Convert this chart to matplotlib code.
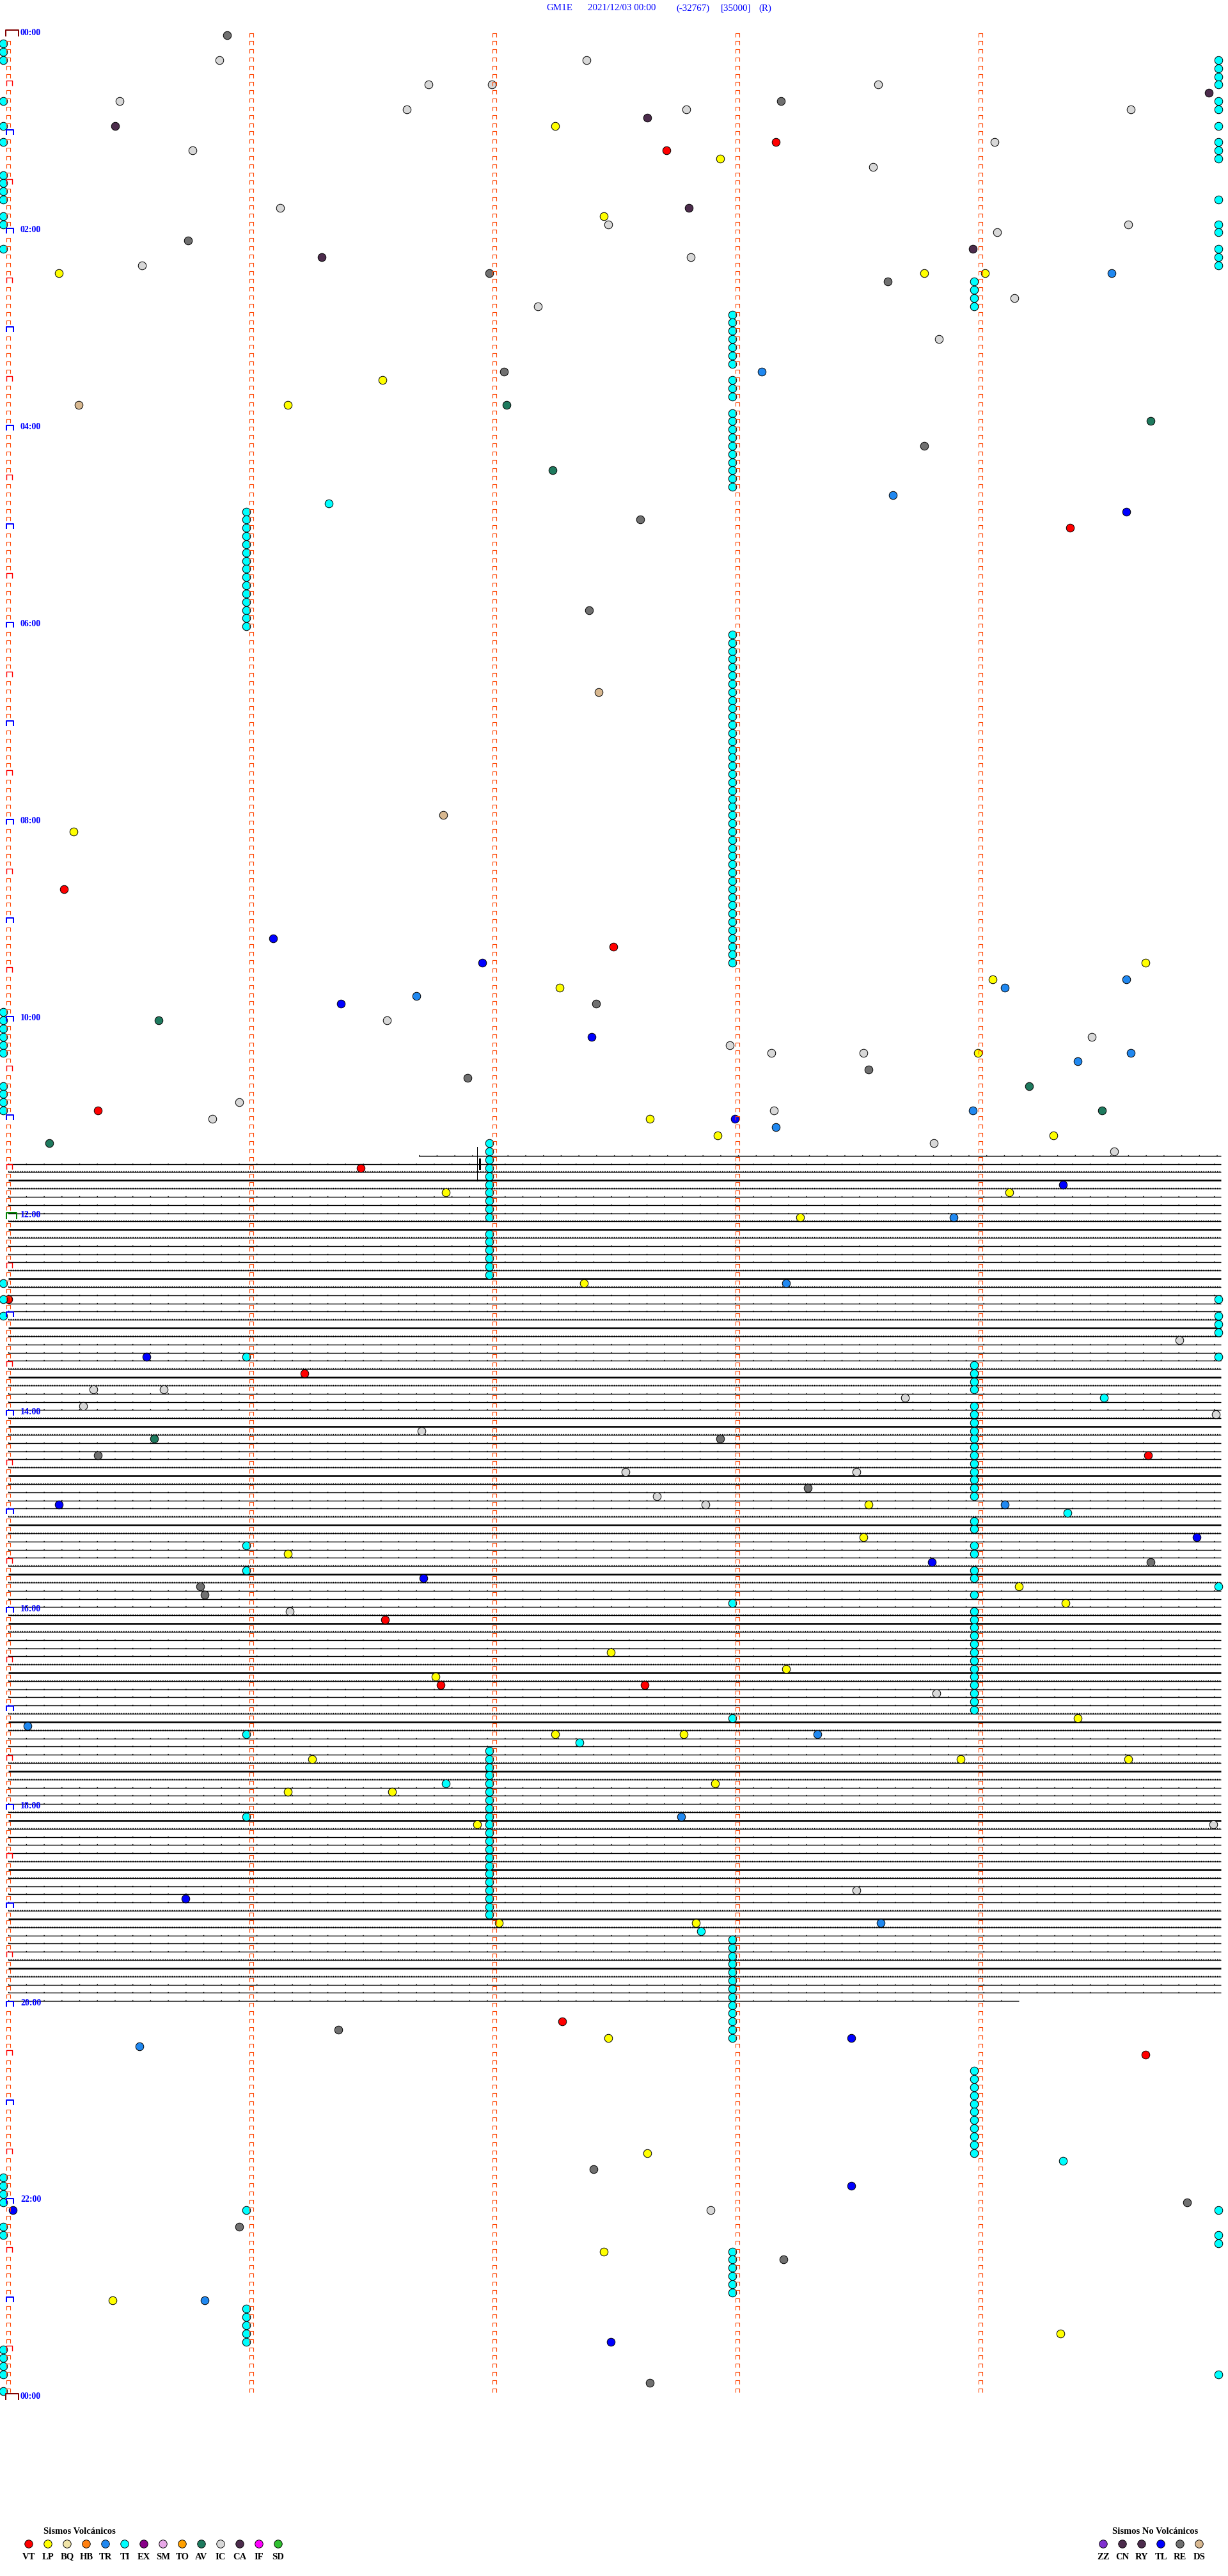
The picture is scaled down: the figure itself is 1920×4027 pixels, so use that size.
import matplotlib
matplotlib.use("Agg")
import matplotlib.pyplot as plt
from matplotlib.path import Path

# ---------------------------------------------------------------- data
title_parts = ["GM1E", "2021/12/03 00:00", "(-32767)", "[35000]", "(R)"]
minutes_per_row = 5
n_rows = 288                      # 24 h of 5-minute rows
minute_marks = [0, 1, 2, 3, 4]    # minute ticks inside each row
hour_label_rows = [0, 24, 48, 72, 96, 120, 144, 168, 192, 216, 240, 264, 288]
hour_labels = ["00:00", "02:00", "04:00", "06:00", "08:00", "10:00", "12:00",
               "14:00", "16:00", "18:00", "20:00", "22:00", "00:00"]

# events: (row index, minute offset inside the row)
VT = [(13, 3.16), (14, 2.71), (60, 4.37), (104, 0.23), (111, 2.49), (131, 0.37),
      (138, 1.45), (154, 0.00), (163, 1.22), (173, 4.69), (193, 1.55), (201, 1.78),
      (201, 2.62), (242, 2.28), (246, 4.68)]
LP = [(11, 2.25), (15, 2.93), (22, 2.45), (29, 0.21), (29, 3.77), (29, 4.02),
      (42, 1.54), (45, 1.15), (97, 0.27), (113, 4.68), (115, 4.05), (116, 2.27),
      (124, 3.99), (132, 2.64), (134, 2.92), (134, 4.30), (141, 1.80), (141, 4.12),
      (144, 3.26), (152, 2.37), (179, 3.54), (183, 3.52), (185, 1.15), (189, 4.16),
      (191, 4.35), (197, 2.48), (199, 3.20), (200, 1.76), (205, 4.40), (207, 2.25),
      (207, 2.78), (210, 3.92), (210, 4.61), (210, 1.25), (213, 2.91), (214, 1.15),
      (214, 1.58), (218, 1.93), (230, 2.02), (230, 2.83), (244, 2.47), (258, 2.63),
      (270, 2.45), (276, 0.43), (280, 4.33)]
TR = [(29, 4.54), (41, 3.10), (56, 3.64), (115, 4.60), (116, 4.10), (117, 1.68),
      (124, 4.62), (125, 4.40), (131, 3.97), (133, 3.16), (144, 3.89), (152, 3.20),
      (179, 4.10), (206, 0.08), (207, 3.33), (217, 2.77), (230, 3.59), (245, 0.54),
      (276, 0.81)]
TL = [(58, 4.60), (110, 1.09), (113, 1.95), (118, 1.37), (122, 2.40), (132, 2.99),
      (140, 4.34), (161, 0.57), (179, 0.21), (183, 4.89), (186, 3.80), (188, 1.71),
      (227, 0.73), (244, 3.47), (262, 3.47), (265, 0.02), (281, 2.48)]
RE = [(0, 0.90), (8, 3.18), (25, 0.74), (29, 1.98), (30, 3.62), (41, 2.04),
      (50, 3.77), (59, 2.60), (70, 2.39), (118, 2.42), (126, 3.54), (127, 1.89),
      (171, 2.93), (173, 0.37), (177, 3.29), (186, 4.70), (189, 0.79), (190, 0.81),
      (243, 1.36), (260, 2.41), (264, 4.85), (267, 0.95), (271, 3.19), (286, 2.64)]
IC = [(3, 0.87), (3, 2.38), (6, 1.73), (6, 1.99), (6, 3.58), (8, 0.46), (9, 1.64),
      (9, 2.79), (9, 4.62), (13, 4.06), (14, 0.76), (16, 3.56), (21, 1.12), (23, 2.47),
      (23, 4.61), (24, 4.07), (27, 2.81), (28, 0.55), (32, 4.14), (33, 2.18), (37, 3.83),
      (120, 1.56), (122, 4.46), (123, 2.97), (124, 3.14), (124, 3.52), (130, 0.95),
      (131, 3.15), (132, 0.84), (135, 3.81), (136, 4.55), (159, 4.82), (165, 0.35),
      (165, 0.64), (166, 3.69), (167, 0.31), (168, 4.97), (170, 1.70), (175, 2.54),
      (175, 3.49), (178, 2.67), (179, 2.87), (192, 1.16), (202, 3.82), (218, 4.96),
      (226, 3.49), (265, 2.89)]
CA = [(7, 4.94), (10, 2.63), (11, 0.44), (21, 2.80), (26, 3.97), (27, 1.29)]
AV = [(45, 2.05), (47, 4.70), (53, 2.24), (120, 0.62), (128, 4.20), (131, 4.50),
      (135, 0.17), (171, 0.60)]
DS = [(45, 0.29), (80, 2.43), (95, 1.79)]
# TI (tremor) runs: (first row, last row, minute offset)
TI_runs = [(1, 3, -0.02), (8, 8, -0.02), (11, 11, -0.02), (13, 13, -0.02),
           (17, 20, -0.02), (22, 23, -0.02), (26, 26, -0.02), (119, 124, -0.02),
           (128, 131, -0.02), (152, 152, -0.02), (154, 154, -0.02), (156, 156, -0.02),
           (261, 264, -0.02), (267, 268, -0.02), (282, 285, -0.02), (287, 287, -0.02),
           (3, 6, 4.98), (8, 9, 4.98), (11, 11, 4.98), (13, 15, 4.98), (20, 20, 4.98),
           (23, 24, 4.98), (26, 28, 4.98), (154, 154, 4.98), (156, 158, 4.98),
           (161, 161, 4.98), (189, 189, 4.98), (265, 265, 4.98), (268, 269, 4.98),
           (285, 285, 4.98),
           (58, 72, 0.98), (161, 161, 0.98), (184, 184, 0.98), (187, 187, 0.98),
           (207, 207, 0.98), (217, 217, 0.98), (265, 265, 0.98), (277, 281, 0.98),
           (135, 144, 1.98), (146, 151, 1.98), (209, 229, 1.98),
           (34, 40, 2.98), (42, 44, 2.98), (46, 55, 2.98), (73, 113, 2.98),
           (191, 191, 2.98), (205, 205, 2.98), (232, 244, 2.98), (270, 275, 2.98),
           (30, 33, 3.975), (162, 165, 3.975), (167, 178, 3.975), (181, 182, 3.975),
           (184, 185, 3.975), (187, 188, 3.975), (190, 190, 3.975), (192, 204, 3.975),
           (248, 258, 3.975)]
TI_single = [(57, 1.32), (166, 4.51), (180, 4.36), (208, 2.35), (213, 1.80),
             (231, 2.85), (259, 4.34)]

# seismogram traces (only recorded from 11:25 to 20:00)
trace_first_row = 137
trace_last_row = 240
trace_start_offset = 1.69     # minutes into first row where the record starts
trace_end_offset = 4.16       # minutes into last row where the record ends
# per-row look: t = quiet, n = noisy, T = strong
trace_style = ("t" "tnTntt" "tnTntt" "tnTntt" "tnTntt" "tnTntt" "tnTntt" "tnTntt"
               "tnTntt" "tnTntt" "tnTntt" "tnTntt" "tnTntt" "tnTntt" "tnTntt"
               "tnTntt" "tnTntt" "tnTntt" "t")
spike_row, spike_offset, spike_rows_amp = 138, 1.93, 2.1

volc_codes = ["VT", "LP", "BQ", "HB", "TR", "TI", "EX", "SM", "TO", "AV", "IC", "CA", "IF", "SD"]
volc_colors = ["#FF0000", "#FFFF00", "#F0E4A8", "#FF8010", "#2088F0", "#00FFFF", "#880088",
               "#E8A8E8", "#FFA000", "#1E7A5E", "#D8D8D8", "#4C2C4C", "#FF00FF", "#30C030"]
nonvolc_codes = ["ZZ", "CN", "RY", "TL", "RE", "DS"]
nonvolc_colors = ["#8030D0", "#4C2C4C", "#4C2C4C", "#0000FF", "#707070", "#D8B890"]

# ---------------------------------------------------------------- figure
W, H = 1920, 4027
fig = plt.figure(figsize=(W / 100, H / 100), dpi=100)
ax = fig.add_axes([0, 0, 1, 1])
x0_px, col_px = 12.5, 380.0      # pixel of minute 0 and width of one minute
y0_px, row_px = 49.0, 12.83      # pixel of row 0 and row height
ax.set_xlim(-x0_px / col_px, (W - x0_px) / col_px)
ax.set_ylim((H - y0_px) / row_px, -y0_px / row_px)
ax.axis("off")

serif = ["Liberation Serif", "DejaVu Serif"]
PT = 0.72  # points per pixel

# traces (Line2D so that horizontal lines snap to the pixel grid)
for i, k in enumerate(range(trace_first_row, trace_last_row + 1)):
    st = trace_style[i]
    xa = trace_start_offset if k == trace_first_row else 0.0
    xb = trace_end_offset if k == trace_last_row else 4.99
    if st == "T":
        ax.plot([xa, xb], [k, k], color="black", lw=2.6 * PT, zorder=1,
                solid_capstyle="butt")
    elif st == "n":
        ax.plot([xa, xb], [k, k], color="black", lw=1.4 * PT, zorder=1,
                solid_capstyle="butt")
        ax.plot([xa, xb], [k, k], color="black", lw=2.4 * PT, zorder=1,
                ls=(0, (0.6, 0.9)), dash_capstyle="butt")
    else:
        ax.plot([xa, xb], [k, k], color="black", lw=1.4 * PT, zorder=1,
                solid_capstyle="butt")
        ax.plot([xa, xb], [k, k], color="black", lw=2.2 * PT, zorder=1,
                ls=(0, (0.6, 12)), dash_capstyle="butt")
ax.plot([spike_offset, spike_offset], [spike_row - spike_rows_amp, spike_row + spike_rows_amp],
        color="black", lw=1.0 * PT, zorder=1)
ax.plot([spike_offset + 0.01, spike_offset + 0.01], [spike_row - 0.6, spike_row + 0.6],
        color="black", lw=3 * PT, zorder=1)

# event circles
evt_color = dict(zip(volc_codes + nonvolc_codes, volc_colors + nonvolc_colors))
ti_events = [(k, off) for a, b, off in TI_runs for k in range(a, b + 1)] + TI_single
groups = [("RE", RE), ("IC", IC), ("CA", CA), ("AV", AV), ("DS", DS), ("TL", TL),
          ("TR", TR), ("LP", LP), ("VT", VT), ("TI", ti_events)]
S = (12.5 * PT) ** 2
for code, ev in groups:
    rows = [e[0] + 0.5 for e in ev]
    offs = [e[1] for e in ev]
    ax.scatter(offs, rows, s=S, c=evt_color[code], edgecolors="black",
               linewidths=1.0 * PT, zorder=3)

# row markers
def bracket(w, h):
    return Path([(-w, -h), (-w, h), (w, h), (w, -h)],
                [Path.MOVETO, Path.LINETO, Path.LINETO, Path.LINETO])

small = bracket(1, 1)
all_rows = list(range(n_rows))
for m in minute_marks:
    rws = [k for k in all_rows if not (m == 0 and k % 6 == 0)]
    ax.plot([m] * len(rws), [k + 0.43 for k in rws], ls="none", marker=small,
            ms=5.5 * PT, mew=1.1 * PT, mec="#FF4400", mfc="none", zorder=4)

half_rows = [k for k in all_rows if k % 12 == 6]
hour_rows = [k for k in all_rows if k % 12 == 0 and k not in (0, 144)]
ax.plot([0.005] * len(half_rows), [k + 0.33 for k in half_rows], ls="none",
        marker=bracket(1, 0.92), ms=9 * PT, mew=1.4 * PT, mec="#FF0000", mfc="none", zorder=4)
ax.plot([0.006] * len(hour_rows), [k + 0.35 for k in hour_rows], ls="none",
        marker=bracket(1, 0.8), ms=11 * PT, mew=2 * PT, mec="#0000FF", mfc="none", zorder=4)
ax.plot([0.018, 0.018], [0 + 0.2, n_rows + 0.2], ls="none",
        marker=bracket(1, 0.5), ms=20 * PT, mew=2 * PT, mec="#800000", mfc="none", zorder=4)
ax.plot([0.014], [144 + 0.32], ls="none",
        marker=bracket(1, 0.68), ms=16 * PT, mew=2 * PT, mec="#008000", mfc="none", zorder=4)

for k, lab in zip(hour_label_rows, hour_labels):
    ax.text(0.051, k + 0.22, lab, color="#0000FF", fontsize=10, fontweight="bold",
            family=serif, ha="left", va="center", zorder=5)

# header and legends in pixel space
ov = fig.add_axes([0, 0, 1, 1], facecolor="none")
ov.set_xlim(0, W)
ov.set_ylim(H, 0)
ov.axis("off")
title_x = [854, 919, 1057, 1127, 1186]
for tx, t in zip(title_x, title_parts):
    ov.text(tx, 13, t, color="#0000FF", fontsize=10.8, family=serif, ha="left", va="center")

ov.text(124, 3957, "Sismos Volcánicos", fontsize=10.5, fontweight="bold", family=serif,
        ha="center", va="center", color="black")
vx = [45 + 30 * i for i in range(len(volc_codes))]
ov.scatter(vx, [3977] * len(vx), s=S, c=volc_colors, edgecolors="black", linewidths=0.9 * PT)
for x, c in zip(vx, volc_codes):
    ov.text(x, 3997, c, fontsize=10.5, fontweight="bold", family=serif, ha="center", va="center")

ov.text(1806, 3957, "Sismos No Volcánicos", fontsize=10.5, fontweight="bold", family=serif,
        ha="center", va="center", color="black")
nx = [1725 + 30 * i for i in range(len(nonvolc_codes))]
ov.scatter(nx, [3977] * len(nx), s=S, c=nonvolc_colors, edgecolors="black", linewidths=0.9 * PT)
for x, c in zip(nx, nonvolc_codes):
    ov.text(x, 3997, c, fontsize=10.5, fontweight="bold", family=serif, ha="center", va="center")

fig.savefig("out.png", dpi=100, facecolor="white")
